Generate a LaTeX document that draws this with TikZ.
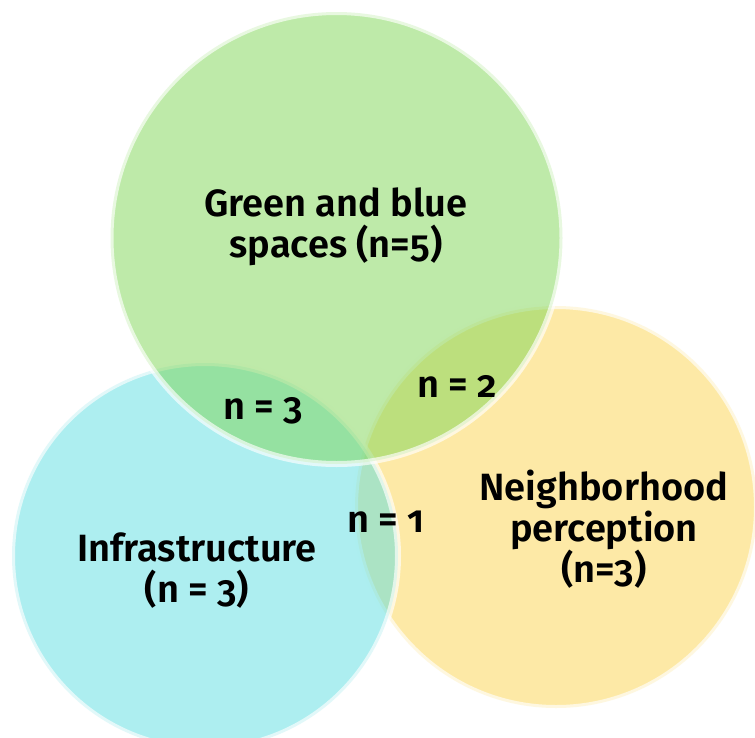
\documentclass[tikz,border=0pt]{standalone}
\usepackage{fontspec}
\setmainfont{Fira Sans}[Numbers=OldStyle, BoldFont={Fira Sans SemiBold}]
\definecolor{setyellow}{RGB}{251,212,80}
\definecolor{setcyan}{RGB}{94,222,225}
\definecolor{setgreen}{RGB}{127,214,86}
\begin{document}
\begin{tikzpicture}[x=1pt,y=-1pt,
  venn/.style={line width=6pt, draw=white, draw opacity=0.65, fill opacity=0.51},
  setlabel/.style={font=\bfseries\fontsize{38}{41}\selectfont, align=center,
    text=black, inner sep=0pt}]
\useasboundingbox (0,0) rectangle (755,737);
% the three sets, bottom to top
\begin{scope}
  \clip (0,0) rectangle (755,737);
  \path[venn, fill=setyellow] (556,507) circle[radius=201pt];
  \path[venn, fill=setcyan]   (205,556) circle[radius=193pt];
  \path[venn, fill=setgreen]  (336.5,238) circle[radius=226pt];
\end{scope}
% set names (anchored at the baseline of their last line)
\node[setlabel, anchor=base] (green) at (336,257) {Green and blue\\spaces (n=5)};
\node[setlabel, anchor=base] (infra) at (197,602) {Infrastructure\\(n = 3)};
\node[setlabel, anchor=base] (neigh) at (604,582) {Neighborhood\\perception\\(n=3)};
% overlap counts
\node[setlabel, anchor=base] (gi) at (263,419) {n = 3};
\node[setlabel, anchor=base] (gn) at (457,397) {n = 2};
\node[setlabel, anchor=base] (in) at (386,532) {n = 1};
\end{tikzpicture}
\end{document}
